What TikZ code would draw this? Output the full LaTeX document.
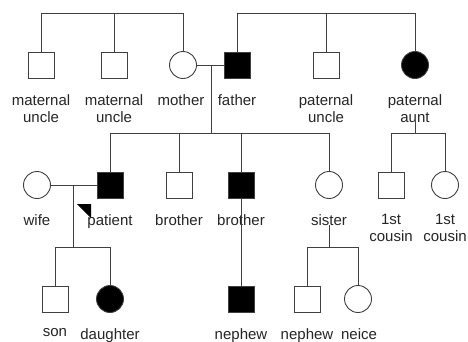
\documentclass[tikz,border=0pt]{standalone}
\usepackage{fontspec}
\setmainfont{Liberation Sans}
\begin{document}
\begin{tikzpicture}[x=1pt,y=-1pt,
  line/.style={draw=black!75, line width=0.9pt},
  male/.style={rectangle, draw=black!75, line width=0.9pt, minimum size=26pt, inner sep=0pt},
  female/.style={circle, draw=black!75, line width=0.9pt, minimum size=27pt, inner sep=0pt},
  aff/.style={fill=black},
  lab/.style={anchor=north, inner sep=0pt, align=center, text=black!85, font=\fontsize{15}{17}\selectfont}]
\useasboundingbox[fill=white] (0,0) rectangle (468,341);
% bar levels
\coordinate (tbar) at (0,13);
\coordinate (sbar) at (0,133);
\coordinate (kbar) at (0,247);
% generation I
\node[male] (mu1) at (41,65) {};
\node[male] (mu2) at (114,65) {};
\node[female] (mo) at (183,65) {};
\node[male,aff] (fa) at (237,65) {};
\node[male] (pu) at (326,65) {};
\node[female,aff] (pa) at (415,65) {};
\node[lab] (lmu1) at (41,94) {maternal\\uncle};
\node[lab] (lmu2) at (114,94) {maternal\\uncle};
\node[lab] (lmo) at (181,94) {mother};
\node[lab] (lfa) at (237,94) {father};
\node[lab] (lpu) at (326,94) {paternal\\uncle};
\node[lab] (lpa) at (415,94) {paternal\\aunt};
% generation II
\node[female] (wi) at (37,185) {};
\node[male,aff] (pt) at (110,185) {};
\node[male] (br1) at (179,185) {};
\node[male,aff] (br2) at (241,185) {};
\node[female] (si) at (329,185) {};
\node[male] (c1) at (391,185) {};
\node[female] (c2) at (445,185) {};
\node[lab] (lwi) at (37,214) {wife};
\node[lab] (lpt) at (110,214) {patient};
\node[lab] (lbr1) at (179,214) {brother};
\node[lab] (lbr2) at (241,214) {brother};
\node[lab] (lsi) at (329,214) {sister};
\node[lab] (lc1) at (391,214) {1st\\cousin};
\node[lab] (lc2) at (445,214) {1st\\cousin};
% generation III
\node[male] (so) at (55,299) {};
\node[female,aff] (da) at (110,299) {};
\node[male,aff] (ne1) at (241,299) {};
\node[male] (ne2) at (307,299) {};
\node[female] (nc) at (358,299) {};
\node[lab] (lso) at (55,328) {son};
\node[lab] (lda) at (110,328) {daughter};
\node[lab] (lne1) at (241,328) {nephew};
\node[lab] (lne2) at (307,328) {nephew};
\node[lab] (lnc) at (359,328) {neice};
% maternal sibship
\draw[line] (mu1.north) -- (mu1.north |- tbar) -- (mo.north |- tbar) -- (mo.north);
\draw[line] (mu2.north) -- (mu2.north |- tbar);
% paternal sibship
\draw[line] (fa.north) -- (fa.north |- tbar) -- (pa.north |- tbar) -- (pa.north);
\draw[line] (pu.north) -- (pu.north |- tbar);
% parents marriage and descent
\draw[line] (mo.east) -- (fa.west);
\coordinate (pd) at (211,65);
\draw[line] (pd) -- (pd |- sbar);
\draw[line] (pt.north) -- (pt.north |- sbar) -- (si.north |- sbar) -- (si.north);
\draw[line] (br1.north) -- (br1.north |- sbar);
\draw[line] (br2.north) -- (br2.north |- sbar);
% aunt's children
\draw[line] (lpa.south) -- (lpa.south |- sbar);
\draw[line] (c1.north) -- (c1.north |- sbar) -- (c2.north |- sbar) -- (c2.north);
% patient marriage and children
\draw[line] (wi.east) -- (pt.west);
\coordinate (wd) at (73,185);
\draw[line] (wd) -- (wd |- kbar);
\draw[line] (so.north) -- (so.north |- kbar) -- (da.north |- kbar) -- (da.north);
% brother's child
\draw[line] (br2.south) -- (ne1.north);
% sister's children
\draw[line] (lsi.south) -- (lsi.south |- kbar);
\draw[line] (ne2.north) -- (ne2.north |- kbar) -- (nc.north |- kbar) -- (nc.north);
% proband arrow
\fill[black] (77,204) -- (91,204) -- (91,218) -- cycle;
\end{tikzpicture}
\end{document}
